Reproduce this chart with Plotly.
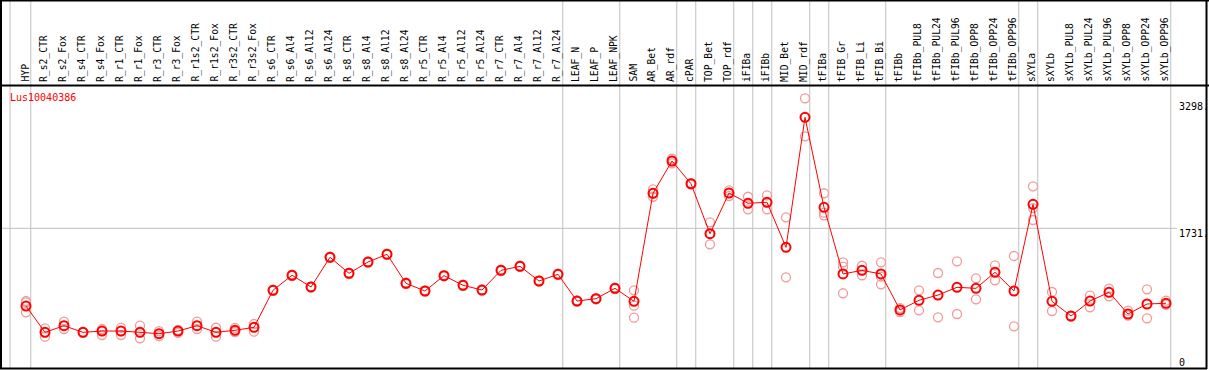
import plotly.graph_objects as go

categories = [
    "HYP", "R_s2_CTR", "R_s2_Fox", "R_s4_CTR", "R_s4_Fox", "R_r1_CTR", "R_r1_Fox",
    "R_r3_CTR", "R_r3_Fox", "R_r1s2_CTR", "R_r1s2_Fox", "R_r3s2_CTR", "R_r3s2_Fox",
    "R_s6_CTR", "R_s6_Al4", "R_s6_Al12", "R_s6_Al24", "R_s8_CTR", "R_s8_Al4",
    "R_s8_Al12", "R_s8_Al24", "R_r5_CTR", "R_r5_Al4", "R_r5_Al12", "R_r5_Al24",
    "R_r7_CTR", "R_r7_Al4", "R_r7_Al12", "R_r7_Al24", "LEAF_N", "LEAF_P", "LEAF_NPK",
    "SAM", "AR_Bet", "AR_rdf", "cPAR", "TOP_Bet", "TOP_rdf", "iFIBa", "iFIBb",
    "MID_Bet", "MID_rdf", "tFIBa", "tFIB_Gr", "tFIB_Li", "tFIB_Bi", "tFIBb",
    "tFIBb_PUL8", "tFIBb_PUL24", "tFIBb_PUL96", "tFIBb_OPP8", "tFIBb_OPP24",
    "tFIBb_OPP96", "sXYLa", "sXYLb", "sXYLb_PUL8", "sXYLb_PUL24", "sXYLb_PUL96",
    "sXYLb_OPP8", "sXYLb_OPP24", "sXYLb_OPP96",
]

means = [
    768, 442, 524, 442, 458, 458, 442, 425, 458, 524, 442, 467, 504,
    963, 1149, 1004, 1372, 1173, 1313, 1409, 1049, 954, 1144, 1025, 966,
    1210, 1260, 1078, 1161, 830, 859, 987,
    826, 2165, 2565, 2283, 1664, 2168, 2041, 2053, 1495, 3106,
    1991, 1165, 1210, 1165, 719, 839, 904, 1000, 987, 1186, 954,
    2028, 826, 644, 830, 938, 669, 793, 802,
]

replicates = [
    [830, 814, 690], [492, 442, 388], [574, 524, 483], [446, 434, 442],
    [483, 458, 409], [496, 458, 409], [524, 442, 368], [458, 425, 396],
    [471, 458, 434], [574, 524, 483], [499, 442, 388], [496, 467, 446],
    [545, 504, 450],
    [955, 972], [1140, 1158], [996, 1012], [1364, 1380], [1165, 1181],
    [1305, 1321], [1401, 1417], [1041, 1057], [946, 962], [1136, 1152],
    [1017, 1033], [958, 974], [1202, 1218], [1252, 1268], [1070, 1086],
    [1153, 1169], [822, 838], [851, 867], [979, 995],
    [963, 772, 623], [2214, 2165, 2122], [2593, 2565, 2536], [2275, 2291],
    [1805, 1664, 1533], [2202, 2168, 2131], [2122, 2041, 1966],
    [2140, 2053, 1966], [1867, 1124], [3342, 2871],
    [2165, 1924, 1892], [1310, 1255, 926], [1267, 1210, 1149],
    [1310, 1131, 1037], [743, 694], [963, 715], [1177, 628], [1322, 669],
    [1111, 851], [1272, 1087], [1388, 517],
    [2251, 1982, 1834], [942, 706], [650, 638], [896, 752], [983, 888],
    [710, 648], [975, 616], [834, 781],
]

group_ends = [0, 28, 31, 34, 35, 37, 38, 39, 41, 42, 45, 52, 53, 60]
axis_ticks = [3298, 1731, 0]
axis_tick_labels = ["3298.", "1731.", "0"]
gene = "Lus10040386"

W, H = 1209, 370
X0, DX = 26.0, 19.0          # pixel of first category, spacing
Y0, S = 368.0, 139.7 / 1731  # pixel of value 0, px per unit

def px_x(p):
    return p / W

def px_y(p):
    return 1 - p / H

xs = list(range(len(categories)))
rx, ry = [], []
for i, vals in enumerate(replicates):
    for v in vals:
        rx.append(i)
        ry.append(v)

fig = go.Figure()
fig.add_trace(go.Scatter(
    x=rx, y=ry, mode="markers", hoverinfo="skip",
    marker=dict(symbol="circle-open", size=9, color="#f09a9a", line=dict(width=1.3)),
))
fig.add_trace(go.Scatter(
    x=xs, y=means, mode="lines+markers",
    line=dict(color="#ff0000", width=1),
    marker=dict(symbol="circle-open", size=9, color="#ff0000", line=dict(width=2)),
))

shapes = []
for g in group_ends:
    shapes.append(dict(type="line", xref="x", yref="paper", x0=g + 0.25, x1=g + 0.25,
                       y0=px_y(368), y1=1, line=dict(color="#c0c0c0", width=1), layer="below"))
shapes.append(dict(type="line", xref="x", yref="paper", x0=-0.84, x1=-0.84,
                   y0=px_y(368), y1=1, line=dict(color="#c0c0c0", width=1), layer="below"))
shapes.append(dict(type="line", xref="paper", yref="y", x0=px_x(1), x1=px_x(1177),
                   y0=axis_ticks[1], y1=axis_ticks[1], line=dict(color="#c0c0c0", width=1),
                   layer="below"))
blk = dict(color="#000000", width=2)
shapes += [
    dict(type="line", xref="paper", yref="paper", x0=0, x1=1, y0=px_y(0.5), y1=px_y(0.5), line=blk),
    dict(type="line", xref="paper", yref="paper", x0=0, x1=1, y0=px_y(85.5), y1=px_y(85.5), line=blk),
    dict(type="line", xref="paper", yref="paper", x0=0, x1=px_x(1207), y0=px_y(368.5), y1=px_y(368.5), line=blk),
    dict(type="line", xref="paper", yref="paper", x0=px_x(1), x1=px_x(1), y0=px_y(0), y1=px_y(369), line=blk),
    dict(type="line", xref="paper", yref="paper", x0=px_x(1206.5), x1=px_x(1206.5), y0=px_y(0), y1=px_y(369), line=blk),
]

mono = "DejaVu Sans Mono"
annotations = []
for i, c in enumerate(categories):
    annotations.append(dict(
        x=i, y=px_y(84), xref="x", yref="paper", text=c, showarrow=False,
        textangle=-90, xanchor="center", yanchor="bottom", xshift=-1.5,
        font=dict(family=mono, size=9.7, color="#000000"),
    ))
annotations.append(dict(
    x=px_x(8), y=px_y(97.5), xref="paper", yref="paper", text=gene, showarrow=False,
    xanchor="left", yanchor="middle", font=dict(family=mono, size=10, color="#ff0000"),
))
label_py = [107, 233, 362]
for lab, py in zip(axis_tick_labels, label_py):
    annotations.append(dict(
        x=px_x(1177), y=px_y(py), xref="paper", yref="paper", text=lab, showarrow=False,
        xanchor="left", yanchor="middle", font=dict(family=mono, size=10, color="#000000"),
    ))

ymin = -(H - Y0) / S
ymax = ymin + H / S
fig.update_layout(
    width=W, height=H, margin=dict(l=0, r=0, t=0, b=0),
    paper_bgcolor="#ffffff", plot_bgcolor="#ffffff", showlegend=False,
    xaxis=dict(range=[-X0 / DX, (W - X0) / DX], visible=False, fixedrange=True),
    yaxis=dict(range=[ymin, ymax], visible=False, fixedrange=True),
    shapes=shapes, annotations=annotations,
)
fig.write_html("out.html", config={"displayModeBar": False},
               post_script="document.body.style.margin='0';document.body.style.overflow='hidden';")
